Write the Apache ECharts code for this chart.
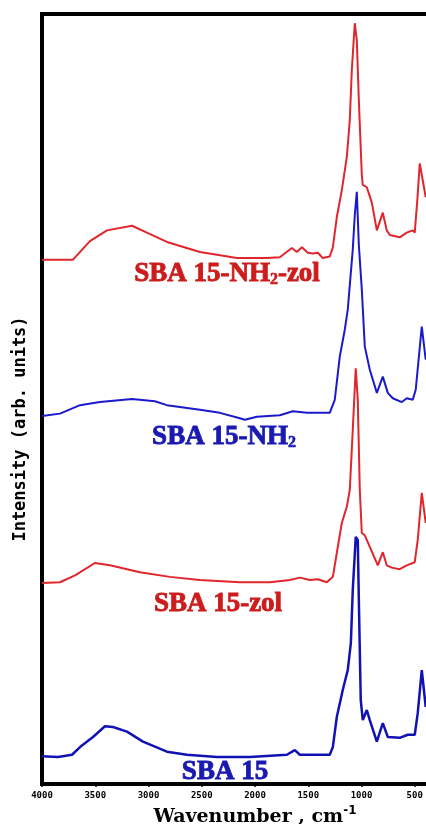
<!DOCTYPE html>
<html>
<head>
<meta charset="utf-8">
<script src="https://cdn.jsdelivr.net/npm/echarts@6/dist/echarts.min.js"></script>
<style>
html,body{margin:0;padding:0;background:#fff;}
#chart{width:426px;height:824px;}
</style>
</head>
<body>
<div id="chart"></div>
<script>
// Wavenumber ticks
const xTicks = [4000, 3500, 3000, 2500, 2000, 1500, 1000, 500];

// SBA 15-NH2-zol (red, top)
const wnNH2zol = [4000, 3709, 3550, 3390, 3155, 3000, 2827, 2517, 2170, 1889, 1767, 1654, 1607, 1560, 1504, 1457, 1410, 1363, 1298, 1269, 1232, 1185, 1138, 1110, 1091, 1063, 1044, 1025, 997, 988, 950, 903, 856, 800, 763, 734, 641, 575, 519, 500, 475, 453, 397];
const valNH2zol = [68.1, 68.1, 70.5, 71.9, 72.5, 71.5, 70.4, 69.1, 68.3, 68.3, 68.4, 69.6, 69.1, 69.7, 69.0, 68.9, 69.0, 68.3, 68.5, 69.7, 73.6, 77.1, 81.4, 86.2, 92.7, 98.8, 96.6, 88.8, 79.1, 77.8, 77.5, 75.5, 71.9, 74.2, 71.9, 71.3, 71.0, 71.6, 71.9, 71.6, 76.0, 80.6, 76.2];

// SBA 15-NH2 (blue)
const wnNH2 = [4000, 3831, 3643, 3456, 3155, 2940, 2827, 2517, 2330, 2142, 2095, 1983, 1767, 1645, 1513, 1298, 1251, 1204, 1157, 1129, 1082, 1063, 1044, 1025, 997, 969, 922, 856, 800, 753, 706, 622, 575, 519, 491, 434, 397];
const valNH2 = [47.8, 48.1, 49.2, 49.6, 50.0, 49.7, 49.2, 48.6, 48.2, 47.5, 47.3, 47.7, 47.9, 48.4, 48.2, 48.2, 49.9, 55.5, 59.0, 61.6, 69.4, 73.9, 76.9, 70.0, 64.2, 56.8, 53.8, 50.8, 52.9, 50.8, 50.1, 49.6, 50.1, 49.9, 51.2, 59.4, 55.1];

// SBA 15-zol (red)
const wnZol = [4000, 3831, 3690, 3503, 3362, 3080, 2799, 2517, 2142, 1861, 1673, 1579, 1485, 1410, 1326, 1269, 1232, 1185, 1138, 1110, 1082, 1054, 1035, 1016, 997, 969, 922, 847, 800, 763, 716, 641, 575, 500, 472, 434, 397];
const valZol = [26.1, 26.2, 27.1, 28.7, 28.4, 27.5, 26.9, 26.5, 26.2, 26.2, 26.5, 26.8, 26.5, 26.6, 26.2, 26.9, 30.0, 33.9, 36.0, 38.2, 46.0, 54.0, 49.9, 38.2, 32.6, 32.3, 30.8, 28.4, 30.1, 28.4, 28.1, 27.9, 28.4, 28.8, 31.7, 37.8, 33.9];

// SBA 15 (blue, bottom)
const wnSBA = [4000, 3850, 3718, 3643, 3521, 3409, 3334, 3202, 3052, 2827, 2639, 2358, 2048, 1701, 1626, 1579, 1298, 1269, 1232, 1176, 1129, 1100, 1082, 1054, 1035, 1025, 1007, 988, 950, 922, 856, 800, 753, 641, 566, 500, 472, 434, 397];
const valSBA = [3.6, 3.5, 3.8, 4.8, 6.1, 7.5, 7.4, 6.8, 5.5, 4.2, 3.8, 3.5, 3.5, 3.8, 4.4, 3.8, 3.8, 4.8, 8.7, 12.2, 14.8, 18.3, 25.2, 32.1, 31.7, 23.9, 10.9, 8.3, 9.6, 8.3, 5.5, 7.9, 6.1, 6.0, 6.4, 6.4, 9.2, 14.8, 10.0];

const seriesNames = ['SBA 15-NH2-zol', 'SBA 15-NH2', 'SBA 15-zol', 'SBA 15'];

const RED = '#e0262c';
const BLUE = '#1a1acc';
const BLUE2 = '#1212b4';
const TRED = '#cc1c1c';
const TBLUE = '#1a1ab0';

function pairs(xs, ys) { return xs.map((x, i) => [x, ys[i]]); }

const chart = echarts.init(document.getElementById('chart'));
const labelFont = 'Liberation Serif';

function curveLabel(x, y, main, sub, tail, color) {
  let txt = '{a|' + main + '}';
  if (sub) txt += '{s|' + sub + '}';
  if (tail) txt += '{a|' + tail + '}';
  return {
    type: 'text', x: x, y: y,
    style: {
      text: txt,
      align: 'center', verticalAlign: 'middle',
      fill: color,
      rich: {
        a: {fontFamily: labelFont, fontWeight: 'bold', fontSize: 27, fill: color, stroke: color, lineWidth: 0.9, lineHeight: 30, verticalAlign: 'bottom'},
        s: {fontFamily: labelFont, fontWeight: 'bold', fontSize: 16, fill: color, stroke: color, lineWidth: 0.6, lineHeight: 30, verticalAlign: 'bottom', padding: [11, 0, 0, 0]}
      }
    }
  };
}

chart.setOption({
  animation: false,
  backgroundColor: '#fff',
  grid: {left: 42, right: -42, top: 14, bottom: 40, show: true, borderColor: '#000', borderWidth: 4, containLabel: false, outerBoundsMode: 'none'},
  xAxis: {
    type: 'value', min: 0, max: 4000, interval: 500, inverse: true,
    axisLine: {show: true, lineStyle: {color: '#000', width: 4}},
    axisTick: {show: true, inside: false, length: 3, lineStyle: {color: '#000', width: 1.5}},
    splitLine: {show: false},
    axisLabel: {
      margin: 7, color: '#000', fontFamily: 'DejaVu Sans Mono', fontWeight: 'bold', fontSize: 9,
      formatter: v => xTicks.indexOf(v) >= 0 ? String(v) : ''
    },
    name: '{t|Wavenumber , cm}{u|-1}',
    nameLocation: 'middle', nameGap: 19,
    nameTextStyle: {
      rich: {
        t: {fontFamily: 'DejaVu Serif', fontWeight: 'bold', fontSize: 19, color: '#000', lineHeight: 22, verticalAlign: 'bottom'},
        u: {fontFamily: 'DejaVu Sans', fontWeight: 'bold', fontSize: 12, color: '#000', lineHeight: 22, verticalAlign: 'top'}
      }
    }
  },
  yAxis: {
    type: 'value', min: 0, max: 100,
    axisLine: {show: false}, axisTick: {show: false}, axisLabel: {show: false}, splitLine: {show: false}
  },
  series: [
    {name: seriesNames[0], type: 'line', showSymbol: false, data: pairs(wnNH2zol, valNH2zol), lineStyle: {color: RED, width: 2}},
    {name: seriesNames[1], type: 'line', showSymbol: false, data: pairs(wnNH2, valNH2), lineStyle: {color: BLUE, width: 2}},
    {name: seriesNames[2], type: 'line', showSymbol: false, data: pairs(wnZol, valZol), lineStyle: {color: RED, width: 2}},
    {name: seriesNames[3], type: 'line', showSymbol: false, data: pairs(wnSBA, valSBA), lineStyle: {color: BLUE2, width: 2.5}}
  ],
  graphic: [
    {
      type: 'text', x: 21, y: 429, rotation: Math.PI / 2,
      style: {text: 'Intensity (arb. units)', align: 'center', verticalAlign: 'middle', fill: '#000',
        font: 'bold 17px "DejaVu Sans Mono"'}
    },
    curveLabel(227, 273, 'SBA 15-NH', '2', '-zol', TRED),
    curveLabel(224, 436, 'SBA 15-NH', '2', '', TBLUE),
    curveLabel(218, 603, 'SBA 15-zol', '', '', TRED),
    curveLabel(225, 771, 'SBA 15', '', '', TBLUE)
  ]
});
</script>
</body>
</html>
